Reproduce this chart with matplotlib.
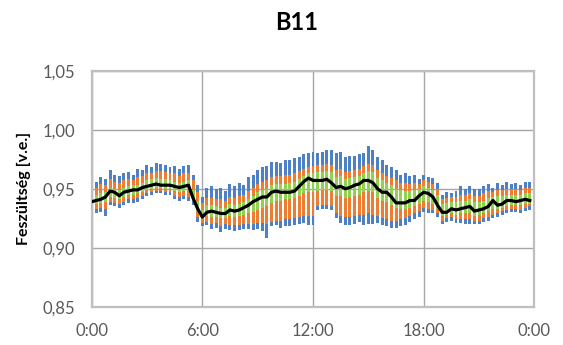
import numpy as np
import matplotlib
matplotlib.use("Agg")
import matplotlib.pyplot as plt
from matplotlib.ticker import FixedLocator, FuncFormatter

plt.rcParams['font.family'] = ['Lato', 'DejaVu Sans']

# 15-minute intervals (hours)
time_h = [i * 0.25 for i in range(96)]

vmin = [0.924, 0.929, 0.930, 0.927, 0.936, 0.935, 0.934, 0.936, 0.938, 0.938, 0.939, 0.941,
        0.944, 0.945, 0.946, 0.946, 0.945, 0.945, 0.941, 0.940, 0.941, 0.940, 0.936, 0.922,
        0.918, 0.919, 0.916, 0.917, 0.913, 0.916, 0.915, 0.914, 0.915, 0.916, 0.916, 0.915,
        0.916, 0.914, 0.908, 0.918, 0.919, 0.917, 0.918, 0.918, 0.919, 0.920, 0.921, 0.919,
        0.919, 0.932, 0.933, 0.933, 0.932, 0.925, 0.921, 0.919, 0.919, 0.920, 0.922, 0.919,
        0.920, 0.920, 0.921, 0.919, 0.918, 0.917, 0.917, 0.918, 0.919, 0.922, 0.924, 0.926,
        0.930, 0.929, 0.929, 0.926, 0.920, 0.922, 0.923, 0.921, 0.921, 0.920, 0.920, 0.920,
        0.920, 0.922, 0.923, 0.925, 0.926, 0.928, 0.929, 0.930, 0.930, 0.929, 0.931, 0.932]

p05 = [0.930, 0.933, 0.934, 0.933, 0.939, 0.938, 0.937, 0.939, 0.941, 0.941, 0.942, 0.944,
       0.946, 0.947, 0.948, 0.948, 0.947, 0.947, 0.944, 0.943, 0.944, 0.943, 0.939, 0.926,
       0.921, 0.922, 0.920, 0.921, 0.918, 0.920, 0.919, 0.919, 0.919, 0.920, 0.920, 0.920,
       0.921, 0.921, 0.920, 0.922, 0.923, 0.923, 0.924, 0.924, 0.925, 0.926, 0.927, 0.927,
       0.927, 0.935, 0.936, 0.936, 0.935, 0.929, 0.927, 0.926, 0.926, 0.927, 0.928, 0.928,
       0.929, 0.928, 0.927, 0.925, 0.924, 0.923, 0.923, 0.924, 0.925, 0.927, 0.929, 0.931,
       0.934, 0.933, 0.932, 0.929, 0.923, 0.925, 0.926, 0.924, 0.924, 0.924, 0.924, 0.923,
       0.923, 0.925, 0.926, 0.928, 0.929, 0.931, 0.932, 0.933, 0.933, 0.932, 0.934, 0.935]

p25 = [0.935, 0.937, 0.938, 0.939, 0.943, 0.942, 0.941, 0.943, 0.945, 0.945, 0.946, 0.947,
       0.949, 0.950, 0.951, 0.951, 0.950, 0.950, 0.948, 0.947, 0.948, 0.948, 0.940, 0.931,
       0.925, 0.927, 0.926, 0.926, 0.925, 0.925, 0.927, 0.926, 0.927, 0.928, 0.929, 0.930,
       0.932, 0.934, 0.935, 0.938, 0.940, 0.940, 0.941, 0.941, 0.942, 0.944, 0.946, 0.947,
       0.947, 0.948, 0.949, 0.949, 0.948, 0.944, 0.944, 0.942, 0.943, 0.944, 0.945, 0.947,
       0.948, 0.947, 0.942, 0.940, 0.939, 0.936, 0.934, 0.933, 0.933, 0.934, 0.935, 0.937,
       0.940, 0.939, 0.937, 0.933, 0.927, 0.928, 0.929, 0.928, 0.929, 0.929, 0.929, 0.927,
       0.928, 0.929, 0.931, 0.933, 0.933, 0.934, 0.935, 0.936, 0.936, 0.936, 0.937, 0.937]

p75 = [0.943, 0.945, 0.946, 0.947, 0.951, 0.950, 0.949, 0.951, 0.952, 0.953, 0.953, 0.955,
       0.957, 0.958, 0.959, 0.958, 0.958, 0.957, 0.956, 0.955, 0.956, 0.957, 0.949, 0.940,
       0.932, 0.936, 0.936, 0.935, 0.934, 0.934, 0.937, 0.936, 0.937, 0.939, 0.941, 0.944,
       0.947, 0.949, 0.950, 0.953, 0.954, 0.954, 0.954, 0.955, 0.956, 0.958, 0.961, 0.963,
       0.963, 0.964, 0.964, 0.965, 0.964, 0.960, 0.961, 0.958, 0.959, 0.960, 0.961, 0.963,
       0.965, 0.964, 0.959, 0.957, 0.955, 0.953, 0.950, 0.949, 0.948, 0.948, 0.949, 0.950,
       0.952, 0.951, 0.949, 0.945, 0.937, 0.938, 0.939, 0.939, 0.940, 0.940, 0.941, 0.939,
       0.939, 0.940, 0.942, 0.943, 0.944, 0.944, 0.945, 0.945, 0.945, 0.945, 0.946, 0.946]

p95 = [0.948, 0.951, 0.954, 0.953, 0.958, 0.956, 0.955, 0.957, 0.958, 0.957, 0.960, 0.961,
       0.963, 0.963, 0.965, 0.965, 0.964, 0.963, 0.963, 0.961, 0.963, 0.963, 0.957, 0.947,
       0.938, 0.942, 0.942, 0.941, 0.941, 0.940, 0.943, 0.942, 0.944, 0.945, 0.948, 0.951,
       0.954, 0.956, 0.957, 0.960, 0.961, 0.961, 0.962, 0.962, 0.963, 0.965, 0.967, 0.968,
       0.969, 0.970, 0.970, 0.971, 0.970, 0.966, 0.967, 0.964, 0.965, 0.966, 0.967, 0.969,
       0.971, 0.970, 0.966, 0.963, 0.961, 0.959, 0.957, 0.955, 0.955, 0.954, 0.955, 0.954,
       0.957, 0.956, 0.954, 0.950, 0.941, 0.942, 0.943, 0.943, 0.945, 0.945, 0.946, 0.944,
       0.944, 0.946, 0.948, 0.947, 0.949, 0.949, 0.950, 0.950, 0.950, 0.949, 0.951, 0.951]

vmax = [0.953, 0.956, 0.960, 0.958, 0.966, 0.962, 0.961, 0.963, 0.964, 0.962, 0.967, 0.966,
        0.970, 0.968, 0.972, 0.971, 0.970, 0.968, 0.969, 0.967, 0.969, 0.970, 0.962, 0.953,
        0.943, 0.951, 0.952, 0.950, 0.951, 0.948, 0.954, 0.952, 0.955, 0.953, 0.960, 0.962,
        0.966, 0.968, 0.969, 0.973, 0.973, 0.972, 0.974, 0.974, 0.976, 0.977, 0.979, 0.980,
        0.981, 0.980, 0.981, 0.983, 0.983, 0.980, 0.981, 0.977, 0.978, 0.978, 0.979, 0.980,
        0.986, 0.983, 0.977, 0.974, 0.970, 0.968, 0.966, 0.962, 0.963, 0.961, 0.962, 0.958,
        0.962, 0.960, 0.959, 0.955, 0.945, 0.947, 0.946, 0.948, 0.952, 0.950, 0.952, 0.950,
        0.950, 0.952, 0.954, 0.951, 0.955, 0.953, 0.956, 0.954, 0.955, 0.953, 0.956, 0.956]

mean = [0.939, 0.940, 0.941, 0.943, 0.948, 0.947, 0.944, 0.947, 0.948, 0.949, 0.949, 0.951,
        0.952, 0.953, 0.954, 0.953, 0.953, 0.953, 0.952, 0.951, 0.952, 0.953, 0.942, 0.933,
        0.926, 0.930, 0.931, 0.930, 0.929, 0.929, 0.932, 0.931, 0.932, 0.934, 0.936, 0.939,
        0.941, 0.943, 0.943, 0.947, 0.948, 0.947, 0.947, 0.947, 0.948, 0.952, 0.956, 0.959,
        0.957, 0.957, 0.957, 0.958, 0.955, 0.951, 0.952, 0.950, 0.951, 0.953, 0.954, 0.957,
        0.957, 0.955, 0.950, 0.947, 0.947, 0.943, 0.938, 0.938, 0.938, 0.940, 0.940, 0.944,
        0.947, 0.946, 0.943, 0.936, 0.930, 0.930, 0.933, 0.932, 0.933, 0.934, 0.935, 0.931,
        0.932, 0.933, 0.935, 0.940, 0.936, 0.937, 0.940, 0.940, 0.939, 0.940, 0.941, 0.940]

x_ticks = [0, 6, 12, 18, 24]
x_tick_labels = ["0:00", "6:00", "12:00", "18:00", "0:00"]
y_ticks = [0.85, 0.90, 0.95, 1.00, 1.05]

title = "B11"
ylabel = "Feszültség [v.e.]"

BLUE = "#4E80C6"
ORANGE = "#ED7D31"
GREEN = "#92D050"

fig = plt.figure(figsize=(5.63, 3.45), dpi=100)
ax = fig.add_axes([0.1627, 0.111, 0.7865, 0.684])

levels = [vmin, p05, p25, p75, p95, vmax]
colors = [BLUE, ORANGE, GREEN, ORANGE, BLUE]
w = 0.16
for k, c in enumerate(colors):
    lo = np.array(levels[k])
    hi = np.array(levels[k + 1])
    ax.bar(time_h, hi - lo, bottom=lo, width=w, color=c, linewidth=0, zorder=2)

ax.plot(time_h, mean, color="black", linewidth=2.3, zorder=3, solid_joinstyle="round")

ax.set_xlim(0, 24)
ax.set_ylim(0.85, 1.05)
ax.xaxis.set_major_locator(FixedLocator(x_ticks))
ax.set_xticklabels(x_tick_labels)
ax.yaxis.set_major_locator(FixedLocator(y_ticks))
ax.yaxis.set_major_formatter(FuncFormatter(lambda v, p: f"{v:.2f}".replace(".", ",")))

ax.grid(True, color="#A6A6A6", linewidth=1.0, zorder=0)
ax.set_axisbelow(True)
for s in ax.spines.values():
    s.set_color("#BFBFBF")
    s.set_linewidth(1.6)
ax.tick_params(length=0, labelsize=12, labelcolor="#595959", pad=12)

ax.set_ylabel(ylabel, fontsize=11.5, fontweight="bold", labelpad=8)
fig.text(0.526, 0.935, title, ha="center", va="center", fontsize=17, fontweight="bold")

fig.savefig("out.png", dpi=100)
